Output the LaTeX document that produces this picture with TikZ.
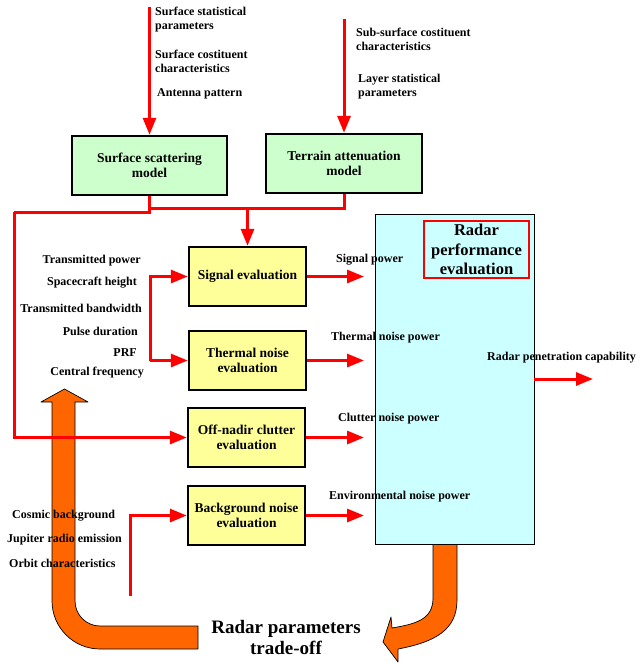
\documentclass[tikz,border=0pt]{standalone}
\usepackage{fontspec}
\setmainfont{Liberation Serif}
\usetikzlibrary{arrows.meta}
\definecolor{boxgreen}{HTML}{CCFFCC}
\definecolor{boxyellow}{HTML}{FFFF99}
\definecolor{boxcyan}{HTML}{CCFFFF}
\definecolor{bigorange}{HTML}{FF6600}
\begin{document}
\begin{tikzpicture}[x=1pt,y=-1pt,
  redln/.style={draw=red, line width=3pt},
  redarr/.style={redln, -{Triangle[length=17pt,width=13pt]}},
  outarr/.style={redln, -{Triangle[length=17pt,width=13pt]}},
  lbl/.style={font=\fontsize{12}{14.4}\selectfont\bfseries, inner sep=0pt, align=left},
  lblr/.style={font=\fontsize{12}{14.4}\selectfont\bfseries, inner sep=0pt, anchor=east},
  mbox/.style={draw=black, line width=2.4pt, inner sep=0pt, align=center,
    font=\fontsize{13.5}{15.5}\selectfont\bfseries},
  gbox/.style={mbox, fill=boxgreen, minimum width=155pt, minimum height=59pt},
  ybox/.style={mbox, fill=boxyellow, minimum width=117pt, minimum height=59pt},
  bigarrow/.style={fill=bigorange, draw=black, line width=0.7pt, line join=round}
]
\useasboundingbox (0,0) rectangle (640,663);

% orange trade-off arrows
\path[bigarrow] (198,626) -- (100,626) .. controls (86.2,626) and (75,614.8) .. (75,601)
  -- (75,402) -- (88,402) -- (64.5,389) -- (41,402) -- (52,402) -- (52,601)
  .. controls (52,627.5) and (73.5,649) .. (100,649) -- (198,649) -- cycle;
\path[bigarrow] (433,544) -- (433,598) .. controls (433,620) and (415,624) .. (392,628)
  -- (391,617) -- (383,642) -- (398,662) -- (398,649)
  .. controls (435,642) and (457,630) .. (457,600) -- (457,544) -- cycle;

% boxes
\node[gbox] (surf) at (149.5,165.5) {Surface scattering\\model};
\node[gbox, minimum width=156pt] (terr) at (344,163.5) {Terrain attenuation\\model};
\node[ybox] (sig) at (247.5,276.5) {Signal evaluation};
\node[ybox] (therm) at (247.5,360.5) {Thermal noise\\evaluation};
\node[ybox] (off) at (246.5,437.5) {Off-nadir clutter\\evaluation};
\node[ybox] (bg) at (246.5,515.5) {Background noise\\evaluation};
\node[draw=black, line width=0.8pt, fill=boxcyan, minimum width=159pt, minimum height=330pt,
  inner sep=0pt] (perf) at (454.5,379) {};
\node[draw=red, line width=1.3pt, fill=boxcyan, minimum width=105pt, minimum height=57pt,
  inner sep=0pt, align=center, font=\fontsize{16.5}{19.5}\selectfont\bfseries]
  (title) at (476.5,249.5) {Radar\\performance\\evaluation};

% coordinates
\coordinate (in1) at (149.5,7);
\coordinate (in2) at (344,19);
\coordinate (j1) at (14,212);
\coordinate (j2) at (150,208);
\coordinate (j3) at (150,360.5);
\coordinate (j4) at (130,596);
\coordinate (o1) at (364,276.5);
\coordinate (o2) at (364,360.5);
\coordinate (o3) at (364,437.5);
\coordinate (o4) at (364,515.5);
\coordinate (o5) at (593,379);

% connectors
\draw[redarr] (in1) -- (surf.north);
\draw[redarr] (in2) -- (terr.north);
\draw[redln] (surf.south) |- (j1);
\draw[redarr] (j1) |- (off.west);
\draw[redln] (terr.south) |- (j2);
\draw[redarr] (sig.north |- j2) -- (sig.north);
\draw[redarr] (j3) |- (sig.west);
\draw[redarr] (j3) -- (therm.west);
\draw[redarr] (j4) |- (bg.west);
\draw[outarr] (sig.east) -- (o1);
\draw[outarr] (therm.east) -- (o2);
\draw[outarr] (off.east) -- (o3);
\draw[outarr] (bg.east) -- (o4);
\draw[outarr] (perf.east) -- (o5);

% labels
\node[lbl, anchor=west] (t1) at (155,19.5) {Surface statistical\\parameters};
\node[lbl, anchor=west] (t2) at (155,61.5) {Surface costituent\\characteristics};
\node[lbl, anchor=west] (t3) at (157,94.3) {Antenna pattern};
\node[lbl, anchor=west] (t4) at (356,39.5) {Sub-surface costituent\\characteristics};
\node[lbl, anchor=west] (t5) at (358,86.5) {Layer statistical\\parameters};

\node[lblr] (p1) at (141,261) {Transmitted power};
\node[lblr] (p2) at (137,283) {Spacecraft height};
\node[lblr] (p3) at (142,308) {Transmitted bandwidth};
\node[lblr] (p4) at (138,331) {Pulse duration};
\node[lblr] (p5) at (137,353) {PRF};
\node[lblr] (p6) at (144,373) {Central frequency};

\node[lbl, anchor=west] (q1) at (12,516) {Cosmic background};
\node[lbl, anchor=west] (q2) at (7,540) {Jupiter radio emission};
\node[lbl, anchor=west] (q3) at (9,563) {Orbit characteristics};

\node[lbl, anchor=west] (r1) at (336,260) {Signal power};
\node[lbl, anchor=west] (r2) at (331,338) {Thermal noise power};
\node[lbl, anchor=west] (r3) at (338,419) {Clutter noise power};
\node[lbl, anchor=west] (r4) at (329,497) {Environmental noise power};
\node[lbl, anchor=west] (r5) at (487,358) {Radar penetration capability};

\node[inner sep=0pt, align=center, font=\fontsize{19}{21}\selectfont\bfseries]
  (trade) at (286,637.5) {Radar parameters\\trade-off};
\end{tikzpicture}
\end{document}
